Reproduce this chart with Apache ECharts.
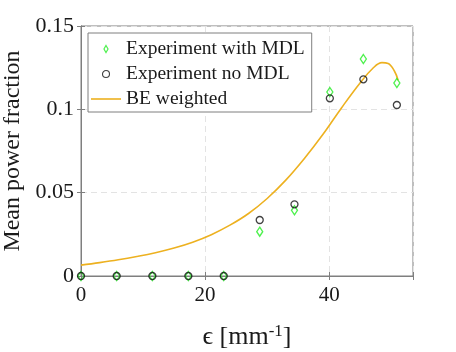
<!DOCTYPE html>
<html>
<head>
<meta charset="utf-8">
<script src="https://cdn.jsdelivr.net/npm/echarts@6/dist/echarts.min.js"></script>
<style>
  html, body { margin: 0; padding: 0; background: #fff; }
  #chart { width: 456px; height: 352px; }
</style>
</head>
<body>
<div id="chart"></div>
<script>
// measured points (epsilon in mm^-1)
const epsPoints = [0, 5.75, 11.5, 17.3, 23.0, 28.8, 34.4, 40.1, 45.5, 50.9]
const withMDL = [0, 0, 0, 0, 0, 0.0266, 0.0394, 0.1104, 0.1302, 0.1158]
const noMDL = [0, 0, 0, 0, 0, 0.0336, 0.0430, 0.1066, 0.1180, 0.1026]

// BE weighted curve
const curveEps = [0, 3, 6, 9, 12, 15, 18, 21, 24, 27, 30, 33, 36, 39, 42, 45, 47, 48.5, 49.5, 50.5, 51.1]
const curveVal = [0.0065, 0.0080, 0.0097, 0.0117, 0.0140, 0.0168, 0.0203, 0.0248, 0.0305, 0.0375, 0.0465, 0.0575, 0.0705, 0.0850, 0.1010, 0.1160, 0.1245, 0.1280, 0.1275, 0.1230, 0.1175]

const yTicks = [0, 0.05, 0.1, 0.15]
const xTickStep = 20

const font = 'Liberation Serif, DejaVu Serif, serif'
const axisGray = '#7f7f7f'
const green = '#22ee22'

const pair = (xs, ys) => xs.map((x, i) => [x, ys[i]])

const chart = echarts.init(document.getElementById('chart'))

chart.setOption({
  animation: false,
  grid: {
    left: 81,
    right: 43,
    top: 26,
    bottom: 76,
    outerBoundsMode: 'none',
    containLabel: false,
    show: true,
    borderColor: axisGray,
    borderWidth: 1
  },
  legend: {
    left: 88,
    top: 33,
    orient: 'vertical',
    itemWidth: 30,
    itemHeight: 7,
    itemGap: 5,
    padding: [6, 7, 3, 3],
    backgroundColor: '#fff',
    borderColor: axisGray,
    borderWidth: 1,
    textStyle: { fontFamily: font, fontSize: 19.5, color: '#1a1a1a' },
    data: [
      {
        name: 'Experiment with MDL',
        icon: 'path://M0,-1.3L0.75,0L0,1.3L-0.75,0Z',
        itemStyle: { color: 'rgba(0,0,0,0)', borderColor: green, borderWidth: 1.2 }
      },
      {
        name: 'Experiment no MDL',
        icon: 'path://M0,-1A1,1,0,1,1,0,1A1,1,0,1,1,0,-1Z',
        itemStyle: { color: 'rgba(0,0,0,0)', borderColor: '#111', borderWidth: 1.1 }
      },
      { name: 'BE weighted', icon: 'path://M0,0H30V1.6H0Z' }
    ]
  },
  xAxis: [{
    type: 'value',
    min: 0,
    max: 53.5,
    interval: xTickStep,
    name: 'ϵ [mm{sup|-1}]',
    nameLocation: 'middle',
    nameGap: 47,
    nameTextStyle: {
      fontFamily: font, fontSize: 26, color: '#1a1a1a',
      rich: { sup: { fontFamily: font, fontSize: 17, verticalAlign: 'top', padding: [0, 0, 12, 0], color: '#1a1a1a' } }
    },
    axisLine: { show: true, lineStyle: { color: axisGray } },
    axisTick: { show: true, inside: true, length: 4, lineStyle: { color: axisGray } },
    axisLabel: {
      margin: 9, fontFamily: font, fontSize: 21, color: '#1a1a1a',
      formatter: v => (v % xTickStep === 0 ? String(v) : '')
    },
    splitLine: { show: true, lineStyle: { color: '#e3e3e3', type: [6, 4] } }
  }, {
    type: 'value',
    position: 'top',
    min: 0,
    max: 53.5,
    interval: xTickStep,
    axisLine: { show: true, lineStyle: { color: axisGray } },
    axisTick: { show: true, inside: true, length: 4, lineStyle: { color: axisGray } },
    axisLabel: { show: false },
    splitLine: { show: false }
  }],
  yAxis: [{
    type: 'value',
    min: yTicks[0],
    max: yTicks[yTicks.length - 1],
    interval: 0.05,
    name: 'Mean power fraction',
    nameLocation: 'middle',
    nameGap: 51,
    nameTextStyle: { fontFamily: font, fontSize: 24, color: '#1a1a1a' },
    axisLine: { show: true, lineStyle: { color: axisGray } },
    axisTick: { show: true, inside: true, length: 4, lineStyle: { color: axisGray } },
    axisLabel: { margin: 7, fontFamily: font, fontSize: 22, color: '#1a1a1a' },
    splitLine: { show: true, lineStyle: { color: '#e3e3e3', type: [6, 4] } }
  }, {
    type: 'value',
    position: 'right',
    min: yTicks[0],
    max: yTicks[yTicks.length - 1],
    interval: 0.05,
    axisLine: { show: true, lineStyle: { color: axisGray } },
    axisTick: { show: true, inside: true, length: 4, lineStyle: { color: axisGray } },
    axisLabel: { show: false },
    splitLine: { show: false }
  }],
  series: [
    {
      name: 'BE weighted',
      type: 'line',
      data: pair(curveEps, curveVal),
      smooth: 0.4,
      symbol: 'none',
      symbolKeepAspect: true,
      z: 2,
      lineStyle: { color: '#EDB120', width: 1.6 },
      itemStyle: { color: '#EDB120' }
    },
    {
      name: 'Experiment with MDL',
      type: 'scatter',
      data: pair(epsPoints, withMDL),
      symbol: 'diamond',
      symbolSize: [6, 9],
      symbolKeepAspect: true,
      z: 3,
      itemStyle: { color: 'rgba(0,0,0,0)', borderColor: green, borderWidth: 1.4 }
    },
    {
      name: 'Experiment no MDL',
      type: 'scatter',
      data: pair(epsPoints, noMDL),
      symbol: 'circle',
      symbolSize: 7,
      symbolKeepAspect: true,
      z: 4,
      itemStyle: { color: 'rgba(0,0,0,0)', borderColor: '#111', borderWidth: 1.3 }
    }
  ]
})
</script>
</body>
</html>
